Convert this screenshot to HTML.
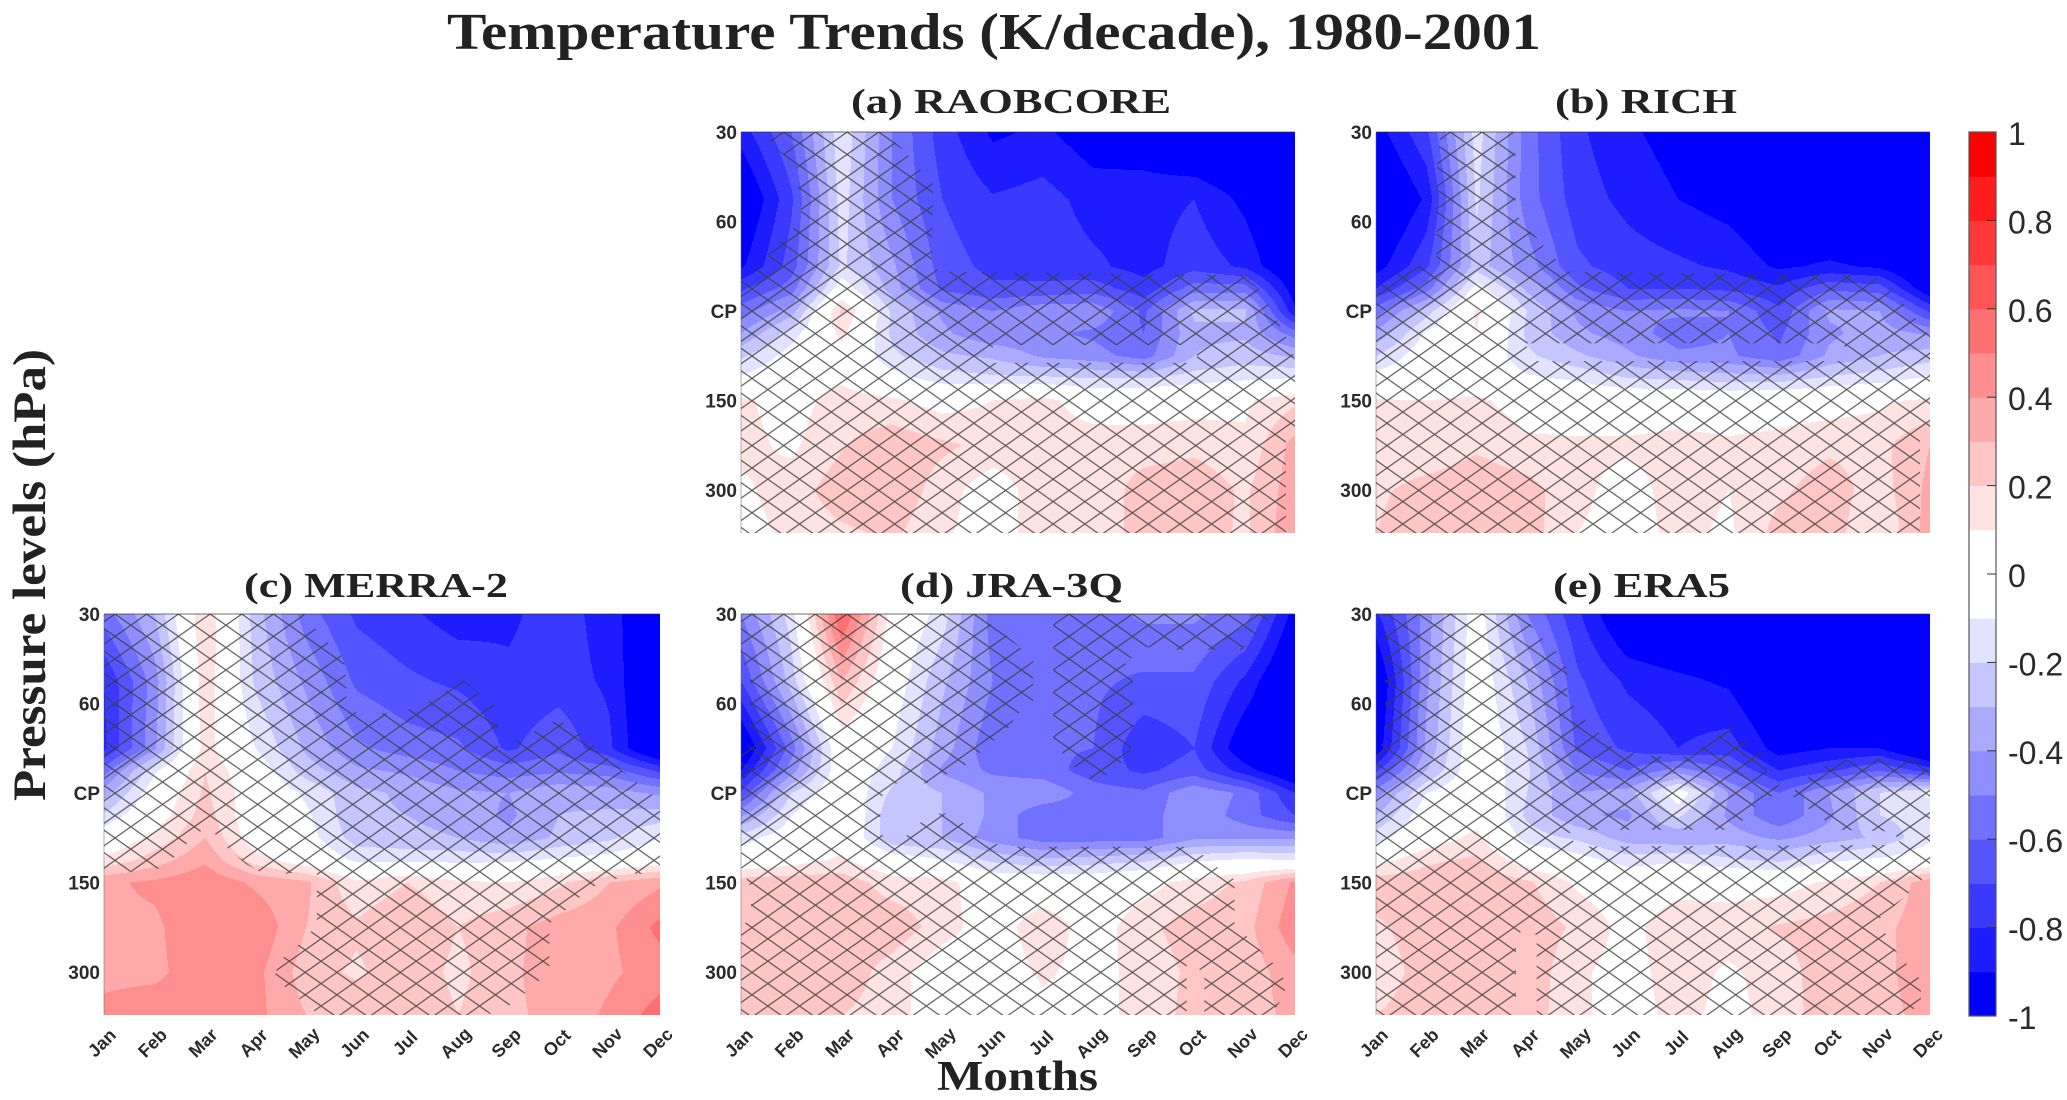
<!DOCTYPE html>
<html lang="en">
<head>
<meta charset="utf-8">
<title>Temperature Trends (K/decade), 1980-2001</title>
<style>
html,body{margin:0;padding:0;background:#fff;width:2067px;height:1100px;overflow:hidden}
svg{display:block}
.serif{font-family:"Liberation Serif",serif;font-weight:bold;fill:#222}
.sans{font-family:"Liberation Sans",sans-serif;fill:#2a2a2a}
</style>
</head>
<body>
<svg id="chart" xmlns="http://www.w3.org/2000/svg" width="2067" height="1100" viewBox="0 0 2067 1100">
  <rect width="2067" height="1100" fill="#fff"/>
  <text class="serif" x="447" y="49" font-size="52" textLength="1094" lengthAdjust="spacingAndGlyphs">Temperature Trends (K/decade), 1980-2001</text>
  <text class="serif" transform="translate(45,801) rotate(-90)" font-size="47" textLength="452" lengthAdjust="spacingAndGlyphs">Pressure levels (hPa)</text>
  <text class="serif" x="937" y="1090" font-size="42" textLength="161" lengthAdjust="spacingAndGlyphs">Months</text>
  <defs id="defs"></defs>
</svg>
<script>
const months = ['Jan','Feb','Mar','Apr','May','Jun','Jul','Aug','Sep','Oct','Nov','Dec'];
const levelLabels = ['30','60','CP','150','300'];
const gridLevels = [0,0.75,1.5,1.75,2,2.25,2.5,2.75,3,3.5,4,4.48];
const colorbarTicks = [1,0.8,0.6,0.4,0.2,0,-0.2,-0.4,-0.6,-0.8,-1];

const raobcoreValues = [
[-.85,-.6,-.12,-.5,-.75,-.92,-.88,-.97,-.98,-1.1,-1.1,-1.1],
[-1.05,-.72,-.15,-.5,-.7,-.79,-.76,-.84,-.84,-.8,-.93,-1.1],
[-.92,-.65,-.18,-.38,-.65,-.73,-.74,-.78,-.84,-.74,-.82,-1.05],
[-.72,-.55,-.02,-.35,-.62,-.68,-.68,-.65,-.76,-.55,-.55,-.97],
[-.55,-.35,.22,-.22,-.42,-.5,-.42,-.42,-.62,-.28,-.28,-.88],
[-.4,-.15,.13,-.22,-.38,-.48,-.48,-.52,-.6,-.32,-.32,-.55],
[-.22,-.05,.05,-.18,-.28,-.32,-.42,-.46,-.55,-.3,-.25,-.32],
[-.08,0,.08,-.05,-.15,-.18,-.18,-.2,-.2,-.15,-.12,-.1],
[.12,.05,.15,.12,.05,.1,.14,.02,.04,.05,.08,.18],
[.13,.08,.19,.27,.22,.17,.16,.17,.15,.17,.12,.34],
[.08,.15,.26,.28,.15,.03,.17,.12,.25,.28,.18,.36],
[.05,.13,.18,.22,.12,.03,.17,.14,.24,.26,.18,.38]
];
const richValues = [
[-.95,-.72,-.15,-.55,-.78,-.88,-.95,-1.05,-1.1,-1.1,-1.1,-1.1],
[-1.1,-.88,-.18,-.55,-.75,-.83,-.9,-.95,-1.05,-1.1,-1.1,-1.1],
[-.95,-.72,-.25,-.45,-.68,-.75,-.78,-.82,-.92,-.88,-.92,-1.1],
[-.8,-.55,-.05,-.32,-.58,-.7,-.7,-.72,-.78,-.62,-.65,-1],
[-.55,-.25,.12,-.2,-.42,-.5,-.48,-.5,-.68,-.38,-.4,-.72],
[-.38,-.08,.1,-.22,-.38,-.45,-.55,-.5,-.62,-.42,-.35,-.42],
[-.2,-.02,.02,-.18,-.28,-.38,-.48,-.48,-.58,-.38,-.3,-.25],
[-.05,0,.02,-.08,-.12,-.2,-.22,-.25,-.25,-.18,-.15,-.08],
[.11,.1,.12,.05,.02,.02,.03,.02,.03,.04,.08,.12],
[.13,.12,.18,.12,.12,.12,.14,.12,.14,.18,.17,.3],
[.18,.24,.28,.24,.13,.05,.15,.1,.18,.25,.15,.33],
[.2,.27,.27,.25,.1,.05,.13,.08,.24,.25,.1,.35]
];
const merra2Values = [
[-.55,-.3,.2,-.25,-.55,-.72,-.78,-.85,-.82,-.75,-.85,-1.05],
[-.8,-.45,.18,-.22,-.42,-.62,-.68,-.72,-.78,-.75,-.82,-1.1],
[-.82,-.42,.15,-.1,-.32,-.48,-.55,-.58,-.72,-.62,-.78,-1.1],
[-.55,-.12,.2,-.02,-.25,-.38,-.42,-.5,-.55,-.52,-.55,-.72],
[-.35,-.02,.22,.02,-.12,-.27,-.32,-.38,-.4,-.32,-.35,-.42],
[-.18,.03,.25,0,-.08,-.28,-.3,-.33,-.42,-.3,-.28,-.25],
[-.02,.13,.3,.02,-.05,-.25,-.28,-.3,-.38,-.28,-.22,-.1],
[.12,.25,.38,.15,.02,-.12,-.12,-.13,-.12,-.08,-.05,.02],
[.38,.42,.48,.38,.32,.12,.2,.12,.1,.18,.3,.38],
[.38,.38,.48,.48,.3,.22,.3,.2,.27,.35,.38,.53],
[.38,.38,.45,.43,.25,.18,.27,.17,.28,.35,.38,.45],
[.42,.45,.45,.43,.3,.28,.3,.2,.28,.33,.42,.55]
];
const jra3qValues = [
[-.5,-.15,.62,.05,-.15,-.55,-.55,-.55,-.48,-.48,-.55,-.95],
[-.7,-.25,.3,-.02,-.28,-.5,-.56,-.58,-.62,-.62,-.82,-1.1],
[-1.05,-.55,.02,-.1,-.35,-.58,-.58,-.6,-.78,-.7,-1,-1.1],
[-.9,-.45,0,-.15,-.42,-.52,-.55,-.65,-.72,-.65,-.85,-1.05],
[-.68,-.2,.02,-.22,-.3,-.42,-.42,-.55,-.58,-.42,-.52,-.8],
[-.42,-.1,.06,-.28,-.3,-.42,-.58,-.55,-.55,-.42,-.55,-.7],
[-.15,-.02,.04,-.28,-.3,-.45,-.55,-.55,-.55,-.42,-.42,-.42],
[-.02,.05,.12,-.02,-.1,-.22,-.28,-.25,-.22,-.12,-.08,-.1],
[.26,.27,.26,.15,.15,0,0,0,.05,.15,.22,.42],
[.27,.28,.28,.27,.15,.03,.18,.03,.18,.24,.26,.47],
[.27,.28,.27,.15,.02,.02,.12,.05,.15,.22,.24,.36],
[.27,.28,.2,.15,.02,.02,.06,.05,.15,.23,.25,.33]
];
const era5Values = [
[-.82,-.45,-.02,-.5,-.78,-1.05,-1.1,-1.1,-1.1,-1.1,-1.1,-1.1],
[-1.05,-.42,0,-.3,-.68,-.82,-.87,-.92,-1.1,-1.1,-1.1,-1.1],
[-.98,-.38,.02,-.2,-.62,-.72,-.8,-.75,-.95,-.9,-.9,-1.1],
[-.72,-.3,0,-.18,-.5,-.6,-.45,-.6,-.8,-.72,-.6,-.75],
[-.45,-.1,.03,-.2,-.4,-.35,-.02,-.4,-.6,-.4,-.2,-.08],
[-.3,-.02,.05,-.22,-.38,-.42,-.18,-.42,-.58,-.42,-.2,-.15],
[-.15,.03,.13,-.15,-.22,-.35,-.38,-.35,-.42,-.35,-.28,-.12],
[.05,.18,.22,.03,-.05,-.15,-.12,-.18,-.22,-.12,-.08,-.02],
[.26,.26,.28,.22,.08,.02,.05,.05,.05,.12,.2,.36],
[.18,.26,.28,.27,.18,.06,.18,.16,.21,.24,.27,.36],
[.12,.26,.27,.27,.12,.05,.16,.08,.15,.26,.27,.36],
[.2,.27,.27,.25,.13,.03,.15,.05,.16,.24,.27,.33]
];

/* Hatched (non-significant) regions, given in month-index / level-index coordinates. */
const raobcoreHatch = [
[[.45,0],[2.83,0],[3.19,.18],[3.82,.59],[3.79,1.43],[3.92,1.56],[9.97,1.6],[10.31,1.77],[10.83,2.29],[11,2.55],[11,3.4],[10.82,3.45],[10.82,4.48],[0,4.48],[0,1.62],[.44,1.43],[1,1.11],[1.2,.91],[1.1,.39],[.51,.09]],
[[5,2.38],[9.05,2.38],[9.05,2.58],[5,2.58]]
];
const richHatch = [
[[1.27,0],[2.73,0],[2.77,.27],[2.77,.92],[3.36,1.29],[3.79,1.56],[9.9,1.6],[10.37,1.84],[11,2.28],[11,3.37],[10.8,3.42],[10.8,4.48],[0,4.48],[0,1.73],[.41,1.58],[1.2,1.43],[1.2,.5]],
[[3,2.36],[9.3,2.36],[9.3,2.56],[3,2.56]]
];
const merra2Hatch = [
[[0,0],[3.95,0],[4.44,.33],[4.74,.49],[4.8,.74],[4.8,.96],[5,1.11],[5.66,1.11],[6.25,1.04],[7.11,.74],[7.78,1.04],[7.8,1.52],[8.43,1.33],[8.98,1.18],[9.48,1.35],[10,1.63],[10.4,1.82],[11,2.08],[11,2.9],[10.44,2.9],[9.6,3.06],[9.33,3.21],[9.07,3.34],[8.81,3.46],[8.81,3.98],[8.5,4.16],[8.23,4.28],[7.92,4.42],[7.55,4.48],[4.26,4.48],[3.37,4.07],[3.46,3.88],[3.77,3.74],[4.04,3.59],[4.21,3.46],[4.21,2.86],[3.6,2.9],[3.15,2.9],[2.8,2.79],[2.49,2.64],[2.23,2.49],[2.09,2.34],[1.87,2.45],[1.61,2.58],[1.34,2.75],[1.03,2.86],[0,2.9]]
];
const jra3qHatch = [
[[0,0],[4.68,0],[5.34,.27],[5.8,.51],[5.8,1],[5.47,1.13],[5.34,1.26],[4.41,1.71],[3.69,1.89],[3.09,1.89],[2.79,2.04],[2.76,2.3],[2.83,2.53],[3.24,2.5],[3.76,2.23],[4.21,2.23],[4.78,2.53],[5.34,2.6],[8.83,2.6],[9.23,2.71],[9.48,2.84],[9.8,2.97],[9.8,3.46],[10.33,3.77],[10.6,3.92],[10.8,4.09],[10.8,4.25],[10.53,4.48],[0,4.48],[0,3.55],[.2,3.33],[.2,3.06],[0,2.83],[0,1.6],[.18,1.4],[.18,.7],[0,.5]],
[[8.85,4.48],[8.85,3.9],[9.2,4],[9.2,4.48]],
[[6.2,0],[10.57,0],[10.24,.22],[9.94,.4],[8.65,.4],[8.05,.37],[7.63,.55],[7.79,.77],[7.79,1.3],[7.72,1.58],[7.16,1.85],[6.93,1.85],[6.63,1.72],[6.2,1.44]]
];
const era5Hatch = [
[[.15,0],[2.94,0],[3.17,.2],[3.59,.42],[3.8,.61],[3.8,.94],[4.19,1.2],[4.47,1.35],[4.78,1.54],[5.57,1.59],[6.04,1.61],[6.43,1.5],[7.06,1.24],[7.37,1.41],[7.76,1.58],[7.76,1.78],[8.23,2.02],[8.47,1.87],[8.78,1.72],[9.25,1.63],[10.59,1.61],[11,1.76],[11,2.86],[10.75,3.03],[10.2,3.31],[9.96,3.42],[10.35,3.79],[10.82,4.09],[10.82,4.35],[10.51,4.48],[0,4.48],[0,1.6],[.19,1.3]],
[[3.8,2.45],[4.23,2.41],[7.13,2.41],[7.45,2.19],[7.76,2.04],[8.23,2.02],[8.78,2.26],[9.21,2.41],[10.27,2.43],[10.43,2.58],[4,2.6]],
[[2.78,3.7],[2.95,3.42],[3.19,3.6],[3.19,4.48],[2.78,4.48]]
];

const panels = [
  {id:'raobcore', title:'(a) RAOBCORE', values:raobcoreValues, hatch:raobcoreHatch, left:741, top:132, width:554, height:401, titleX:851, titleLen:320, titleY:113, yTicks:true, xTicks:false},
  {id:'rich', title:'(b) RICH', values:richValues, hatch:richHatch, left:1376, top:132, width:554, height:401, titleX:1555, titleLen:182, titleY:113, yTicks:true, xTicks:false},
  {id:'merra2', title:'(c) MERRA-2', values:merra2Values, hatch:merra2Hatch, left:104, top:614, width:556, height:401, titleX:244, titleLen:264, titleY:597, yTicks:true, xTicks:true},
  {id:'jra3q', title:'(d) JRA-3Q', values:jra3qValues, hatch:jra3qHatch, left:741, top:614, width:554, height:401, titleX:900, titleLen:223, titleY:597, yTicks:true, xTicks:true},
  {id:'era5', title:'(e) ERA5', values:era5Values, hatch:era5Hatch, left:1376, top:614, width:554, height:401, titleX:1553, titleLen:177, titleY:597, yTicks:true, xTicks:true}
];

const NS = 'http://www.w3.org/2000/svg';
const svg = document.getElementById('chart');
const defs = document.getElementById('defs');
function make(tag, attrs, parent, text) {
  const el = document.createElementNS(NS, tag);
  for (const k in attrs) el.setAttribute(k, attrs[k]);
  if (text !== undefined) el.textContent = text;
  (parent || svg).appendChild(el);
  return el;
}
function binOf(v) {
  let b = Math.floor((v + 1) / 0.1 + 1e-9);
  return Math.max(0, Math.min(19, b));
}
function binColor(b) {
  if (b === 9 || b === 10) return '#ffffff';
  if (b < 9) { const g = Math.round(255 * b / 9); return 'rgb(' + g + ',' + g + ',255)'; }
  const g = Math.round(255 * (19 - b) / 9);
  return 'rgb(255,' + g + ',' + g + ')';
}
function fieldAt(values, m, l) {
  let i = 0;
  while (i < gridLevels.length - 2 && l > gridLevels[i + 1]) i++;
  const j = Math.max(0, Math.min(10, Math.floor(m)));
  const fy = Math.max(0, Math.min(1, (l - gridLevels[i]) / (gridLevels[i + 1] - gridLevels[i])));
  const fx = Math.max(0, Math.min(1, m - j));
  const a = values[i][j], b = values[i][j + 1], c = values[i + 1][j], d = values[i + 1][j + 1];
  return (a * (1 - fx) + b * fx) * (1 - fy) + (c * (1 - fx) + d * fx) * fy;
}

panels.forEach(function (p) {
  const xScale = function (m) { return p.left + m * p.width / (months.length - 1); };
  const yScale = function (l) { return p.top + l * p.height / 4.48; };
  const mOf = function (px) { return (px - p.left) * (months.length - 1) / p.width; };
  const lOf = function (py) { return (py - p.top) * 4.48 / p.height; };

  const g = make('g', {});
  
  

  const title = make('text', {x:p.titleX, y:p.titleY, 'font-size':35, textLength:p.titleLen, lengthAdjust:'spacingAndGlyphs', class:'serif'}, g, p.title);
  
  

  /* filled contour bands, computed from the value grid */
  const bandPaths = {};
  for (let py = 0; py < p.height; py++) {
    const l = lOf(p.top + py + 0.5);
    let runStart = 0, runBin = binOf(fieldAt(p.values, mOf(p.left + 0.5), l));
    for (let px = 1; px <= p.width; px++) {
      const b = px < p.width ? binOf(fieldAt(p.values, mOf(p.left + px + 0.5), l)) : -1;
      if (b !== runBin) {
        (bandPaths[runBin] = bandPaths[runBin] || []).push('M' + (p.left + runStart) + ' ' + (p.top + py) + 'h' + (px - runStart) + 'v1h' + (runStart - px) + 'z');
        runStart = px; runBin = b;
      }
    }
  }
  const field = make('g', {'shape-rendering':'crispEdges'}, g);
  
  
  Object.keys(bandPaths).forEach(function (b) {
    const band = make('path', {d:bandPaths[b].join(''), fill:binColor(+b)}, field);
    
    
  });

  /* hatching: periodic pattern clipped to the region polygons */
  const W = 31.7, H = 22.4;
  const pat = make('pattern', {id:'pat-' + p.id, patternUnits:'userSpaceOnUse', x:p.left + 11, y:p.top, width:W, height:H}, defs);
  [-W, 0, W].forEach(function (dx) {
    make('line', {x1:dx - W / 2, y1:-H / 2, x2:dx + W * 1.5, y2:H * 1.5, stroke:'#3a3a3a', 'stroke-width':1.15}, pat);
    make('line', {x1:dx + W * 1.5, y1:-H / 2, x2:dx - W / 2, y2:H * 1.5, stroke:'#3a3a3a', 'stroke-width':1.15}, pat);
  });
  const clip = make('clipPath', {id:'clip-' + p.id}, defs);
  const dStr = p.hatch.map(function (poly) {
    return 'M' + poly.map(function (pt) { return xScale(pt[0]).toFixed(1) + ' ' + yScale(pt[1]).toFixed(1); }).join('L') + 'Z';
  }).join('');
  make('path', {d:dStr, 'clip-rule':'evenodd'}, clip);
  const hatch = make('rect', {x:p.left, y:p.top, width:p.width, height:p.height, fill:'url(#pat-' + p.id + ')', 'clip-path':'url(#clip-' + p.id + ')', opacity:0.85}, g);
  
  

  /* frame */
  const topLine = make('line', {x1:p.left, y1:p.top, x2:p.left + p.width, y2:p.top, stroke:'#333', 'stroke-width':1, opacity:0.7}, g);
  
  
  const leftLine = make('line', {x1:p.left, y1:p.top, x2:p.left, y2:p.top + p.height, stroke:'#666', 'stroke-width':1, opacity:0.5}, g);
  
  

  /* tick labels */
  levelLabels.forEach(function (lab, i) {
    const t = make('text', {x:p.left - 4, y:yScale(i) + 7, 'text-anchor':'end', 'font-size':19, 'font-weight':'bold', class:'sans'}, g, lab);
    
    
  });
  if (p.xTicks) {
    months.forEach(function (mo, i) {
      const cx = xScale(i) - 2, cy = p.top + p.height + 28;
      const t = make('text', {x:cx, y:cy + 6, 'text-anchor':'middle', 'font-size':18, 'font-weight':'bold', fill:'#333', transform:'rotate(-45 ' + cx + ' ' + cy + ')', class:'sans'}, g, mo);
      
      
    });
  }
});

/* colorbar */
const cbLeft = 1969, cbRight = 1996, cbTop = 132, cbBottom = 1016;
const cbY = function (v) { return cbTop + (1 - v) / 2 * (cbBottom - cbTop); };
const cb = make('g', {});


for (let b = 0; b < 20; b++) {
  const vLow = -1 + b * 0.1;
  const r = make('rect', {x:cbLeft, y:cbY(vLow + 0.1), width:cbRight - cbLeft, height:cbY(vLow) - cbY(vLow + 0.1) + 0.5, fill:binColor(b)}, cb);
  
  
}
const cbFrame = make('rect', {x:cbLeft, y:cbTop, width:cbRight - cbLeft, height:cbBottom - cbTop, fill:'none', stroke:'#555', 'stroke-width':1.2}, cb);


colorbarTicks.forEach(function (v) {
  if (Math.abs(v) < 1) {
    const tick = make('line', {x1:cbRight - 9, x2:cbRight, y1:cbY(v), y2:cbY(v), stroke:'#333', 'stroke-width':1}, cb);
    
    
  }
  const lab = make('text', {x:2008, y:cbY(v) + 13, 'font-size':32, class:'sans'}, cb, String(v));
  
  
});
</script>
</body>
</html>
